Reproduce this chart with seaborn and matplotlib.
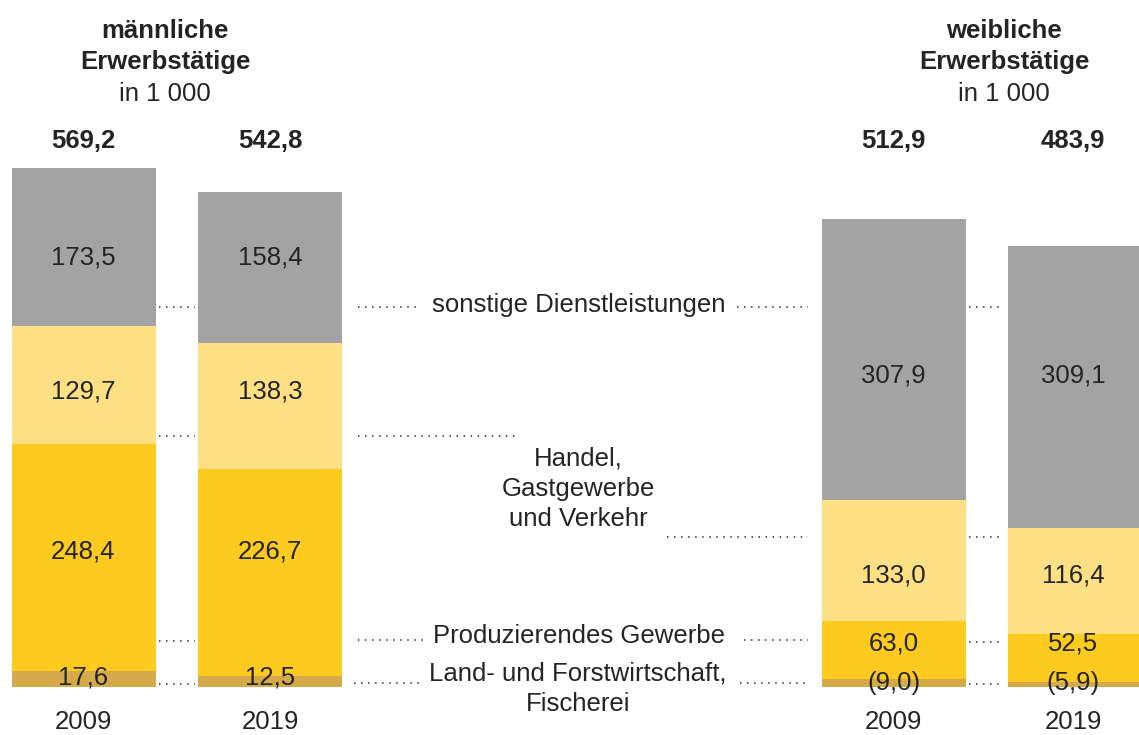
import numpy as np
import pandas as pd
import seaborn as sns
import matplotlib.pyplot as plt

# Erwerbstaetige in 1 000 nach Wirtschaftsbereichen
years = ['2009', '2019', '2009', '2019']
sexes = ['männlich', 'männlich', 'weiblich', 'weiblich']
totals = [569.2, 542.8, 512.9, 483.9]
land = [17.6, 12.5, 9.0, 5.9]
produz = [248.4, 226.7, 63.0, 52.5]
handel = [129.7, 138.3, 133.0, 116.4]
sonstige = [173.5, 158.4, 307.9, 309.1]
land_uncertain = [False, False, True, True]   # values in brackets

headers = [['männliche', 'Erwerbstätige'], ['weibliche', 'Erwerbstätige']]
unit = 'in 1 000'
sector_names = ['sonstige Dienstleistungen', 'Handel,\nGastgewerbe\nund Verkehr',
                'Produzierendes Gewerbe', 'Land- und Forstwirtschaft,\nFischerei']

# layout (pixel based, figure is 1139 x 735)
W, H = 1139, 735
BASE = 687          # pixel row of the zero line
K = 0.912           # pixel per 1 000
bar_x = [83.5, 270, 893.5, 1080]
bar_w = 144
label_x = [83.5, 270, 893.5, 1073]
c_grey, c_light, c_yellow, c_gold = '#a3a3a3', '#fde083', '#fdca1f', '#d5aa4a'
txt = '#242424'
fs = 18.5


def fmt(v):
    return f'{v:.1f}'.replace('.', ',')


def py(p):
    return (BASE - p) / K


sns.set_theme(style='white')
plt.rcParams['font.family'] = ['Liberation Sans', 'DejaVu Sans']

df = pd.DataFrame({'x': bar_x, 'year': years, 'sex': sexes, 'total': totals,
                   'land': land, 'produz': produz, 'handel': handel})
df['c1'] = df['land']
df['c2'] = df['c1'] + df['produz']
df['c3'] = df['c2'] + df['handel']

fig = plt.figure(figsize=(W / 100, H / 100), dpi=100)
ax = fig.add_axes([0, 0, 1, 1])

# stacked bars: draw cumulative layers from top to bottom
width = bar_w / (bar_x[1] - bar_x[0])
for col, c in [('total', c_grey), ('c3', c_light), ('c2', c_yellow), ('c1', c_gold)]:
    sns.barplot(data=df, x='x', y=col, native_scale=True, orient='x', width=width,
                color=c, saturation=1, errorbar=None, linewidth=0, ax=ax)

ax.set_xlim(0, W)
ax.set_ylim(py(H), py(0))
ax.axis('off')

# segment values (rows share one height per sex)
rows_m = [258, 391, 551, 678]
rows_f = [376, 575, 643, 683]
for i in range(4):
    rows = rows_m if i < 2 else rows_f
    vals = [fmt(sonstige[i]), fmt(handel[i]), fmt(produz[i]),
            f'({fmt(land[i])})' if land_uncertain[i] else fmt(land[i])]
    for r, v in zip(rows, vals):
        ax.text(label_x[i], py(r), v, ha='center', va='center', fontsize=fs, color=txt)
    ax.text(label_x[i], py(141), fmt(totals[i]), ha='center', va='center',
            fontsize=fs, fontweight='bold', color=txt)
    ax.text(label_x[i], py(722), years[i], ha='center', va='center', fontsize=fs, color=txt)

# headers
for hx, h in zip([165, 1004], headers):
    ax.text(hx, py(31), h[0], ha='center', va='center', fontsize=fs, fontweight='bold', color=txt)
    ax.text(hx, py(62), h[1], ha='center', va='center', fontsize=fs, fontweight='bold', color=txt)
    ax.text(hx, py(94), unit, ha='center', va='center', fontsize=fs, color=txt)

# sector names in the middle
ax.text(579, py(305), sector_names[0], ha='center', va='center', fontsize=fs, color=txt)
ax.text(578, py(489), sector_names[1], ha='center', va='center', fontsize=fs, color=txt,
        linespacing=1.32)
ax.text(579, py(636), sector_names[2], ha='center', va='center', fontsize=fs, color=txt)
ax.text(578, py(689), sector_names[3], ha='center', va='center', fontsize=fs, color=txt,
        linespacing=1.32)

# dotted leader lines (x0, x1, y in pixels)
leaders = [
    (159, 195, 307), (159, 195, 436), (159, 195, 641), (159, 195, 684),
    (358, 421, 307), (358, 515, 436), (358, 426, 640), (354, 424, 683),
    (737, 808, 307), (667, 808, 537), (744, 808, 640), (740, 806, 683),
    (969, 1003, 307), (969, 1003, 537), (969, 1003, 642), (969, 1003, 684),
]
for x0, x1, y in leaders:
    ax.plot([x0, x1], [py(y), py(y)], color='#444444', lw=1.3,
            linestyle=(0, (0.8, 3.1)), dash_capstyle='butt')

fig.savefig('out.png', dpi=100)
